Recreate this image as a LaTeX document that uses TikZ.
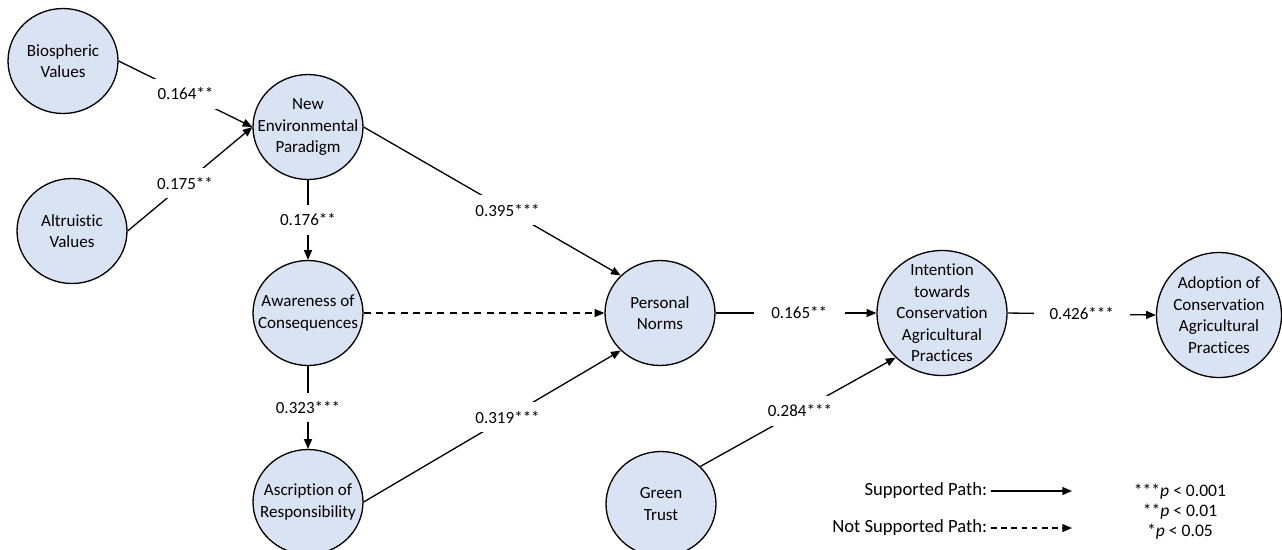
\documentclass[tikz,border=0pt]{standalone}
\usepackage{fontspec}
\setmainfont{Carlito}[Ligatures=NoCommon]
\usetikzlibrary{arrows.meta,shapes.geometric}
\definecolor{constructblue}{RGB}{218,227,243}
\begin{document}
\begin{tikzpicture}[x=0.02cm, y=-0.02cm,
		font=\fontsize{9.7}{12.2}\selectfont,
		construct/.style={ellipse, draw=black, fill=constructblue, line width=0.75pt, inner sep=-20pt, minimum width=2.2cm, minimum height=2.1cm, align=center},
		bigconstruct/.style={construct, minimum width=2.6cm, minimum height=2.5cm},
		hyp/.style={line width=0.75pt, -{Triangle[length=5.5pt,width=4.5pt]}},
		nohyp/.style={hyp, dash pattern=on 4pt off 3pt},
		coef/.style={fill=white, inner xsep=7pt, inner ysep=5pt},
		legendtext/.style={anchor=east, inner sep=2pt, font=\fontsize{10.6}{12.2}\selectfont}]
		\useasboundingbox (0,0) rectangle (1282,549);
		
		\node[construct] (bio) at (63,61) {Biospheric\\Values};
		\node[construct] (alt) at (72,231) {Altruistic\\Values};
		\node[construct] (nep) at (308,127) {New\\Environmental\\Paradigm};
		\node[construct] (aw) at (308,313) {Awareness of\\Consequences};
		\node[construct] (asc) at (308,502) {Ascription of\\Responsibility};
		\node[construct] (pn) at (660,313) {Personal\\Norms};
		\node[construct] (gt) at (661,504) {Green\\Trust};
		\node[bigconstruct] (int) at (942,313) {Intention\\towards\\Conservation\\Agricultural\\Practices};
		\node[bigconstruct, minimum width=2.5cm] (adopt) at (1219,315) {Adoption of\\Conservation\\Agricultural\\Practices};
		
		\draw[hyp] (bio.east) -- (nep.west) node[coef, pos=0.5] {0.164**};
		\draw[hyp] (alt.east) -- (nep.west) node[coef, pos=0.46] {0.175**};
		\draw[hyp] (nep.south) -- (aw.north) node[coef, pos=0.5] {0.176**};
		\draw[hyp] (aw.south) -- (asc.north) node[coef, pos=0.5] {0.323***};
		\draw[hyp] (nep.east) -- (pn.north west) node[coef, pos=0.56] {0.395***};
		\draw[nohyp] (aw.east) -- (pn.west);
		\draw[hyp] (asc.east) -- (pn.south west) node[coef, pos=0.56] {0.319***};
		\draw[hyp] (pn.east) -- (int.west) node[coef, inner xsep=10pt, pos=0.52] {0.165**};
		\draw[hyp] (gt.north east) -- (int.south west) node[coef, pos=0.51] {0.284***};
		\draw[hyp] (int.east) -- (adopt.west) node[coef, inner xsep=9pt, pos=0.5] {0.426***};
		
		% legend
		\node[legendtext] (sup) at (991,491) {Supported Path:};
		\node[legendtext] (notsup) at (991,528) {Not Supported Path:};
		\coordinate (supend) at (1072,491);
		\coordinate (notsupend) at (1072,528);
		\draw[hyp] (sup.east) -- (supend);
		\draw[nohyp, dash pattern=on 3.2pt off 2.6pt] (notsup.east) -- (notsupend);
		\node[align=center, font=\fontsize{10}{11.3}\selectfont] (sig) at (1180,512) {***\textit{p} < 0.001\\**\textit{p} < 0.01\\*\textit{p} < 0.05};
	\end{tikzpicture}
\end{document}
